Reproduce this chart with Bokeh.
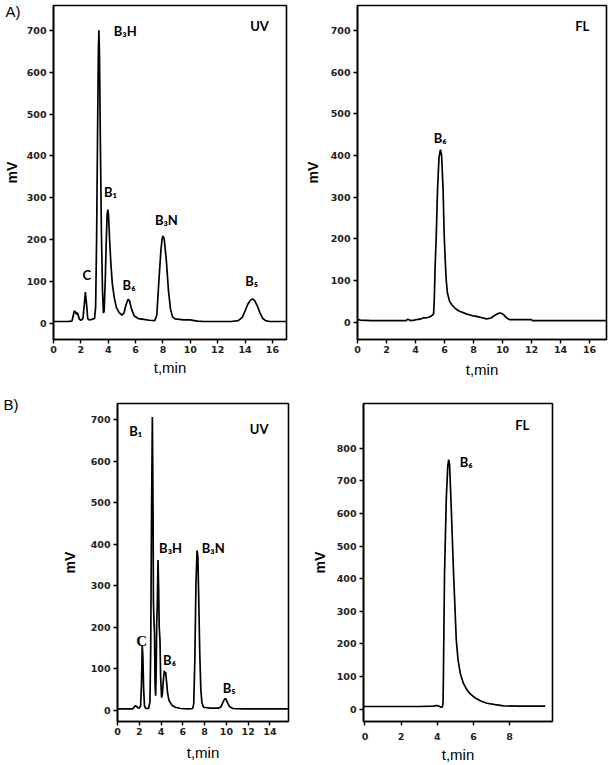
from bokeh.plotting import figure
from bokeh.layouts import column, row
from bokeh.models import FixedTicker, LinearAxis, Range1d, GlobalInlineStyleSheet
from bokeh.core.properties import value
from bokeh.embed import file_html
from bokeh.resources import INLINE

# ---------------- data ----------------
# Panel A, UV detector
a_uv_t = [0.0, 1.0, 1.35, 1.45, 1.52, 1.6, 1.68, 1.75, 1.82, 1.9, 2.0, 2.15, 2.25, 2.33, 2.42, 2.5,
          2.6, 2.8, 3.0, 3.08, 3.15, 3.22, 3.28, 3.32, 3.36, 3.42, 3.5, 3.58, 3.65, 3.7, 3.78, 3.85,
          3.92, 3.97, 4.02, 4.1, 4.2, 4.3, 4.45, 4.6, 4.8, 5.0, 5.15, 5.3, 5.45, 5.55, 5.7, 5.9,
          6.2, 6.6, 7.0, 7.4, 7.55, 7.7, 7.85, 7.95, 8.02, 8.1, 8.25, 8.4, 8.55, 8.7, 8.9, 9.5,
          10.0, 10.5, 11.0, 12.0, 13.0, 13.5, 13.8, 14.0, 14.2, 14.4, 14.55, 14.7, 14.9, 15.1,
          15.3, 15.5, 15.8, 17.0]
a_uv_mv = [5, 5, 6, 20, 30, 28, 22, 26, 18, 10, 8, 12, 45, 75, 45, 12,
           9, 10, 12, 40, 200, 450, 650, 700, 640, 450, 220, 80, 25, 30, 100, 190,
           260, 272, 260, 200, 140, 95, 60, 38, 26, 20, 25, 45, 58, 55, 35, 18,
           12, 10, 8, 7, 20, 100, 175, 205, 209, 200, 150, 80, 35, 16, 11, 9,
           9, 6, 5, 5, 5, 7, 15, 30, 46, 56, 59, 55, 42, 25,
           12, 7, 5, 5]

# Panel A, fluorescence detector
a_fl_t = [0.0, 0.2, 1.0, 2.0, 3.0, 3.35, 3.45, 3.55, 3.65, 3.9, 4.2, 4.4, 4.55, 4.7, 4.9, 5.1,
          5.25, 5.3, 5.35, 5.43, 5.52, 5.62, 5.72, 5.8, 5.9, 5.98, 6.05, 6.12, 6.2, 6.35, 6.5,
          6.74, 7.0, 7.5, 8.0, 8.45, 8.9, 9.2, 9.45, 9.7, 9.85, 10.05, 10.3, 10.5, 11.0, 12.0,
          12.05, 14.0, 17.2]
a_fl_mv = [7, 5, 4, 4, 4, 4, 7, 6, 4, 5, 7, 8, 11, 10, 12, 15,
           20, 60, 130, 207, 320, 395, 414, 400, 320, 207, 148, 100, 70, 50, 42,
           33, 27, 20, 15, 12, 8, 10, 16, 21, 22, 19, 10, 6, 6, 6,
           4, 4, 4]

# Panel B, UV detector
b_uv_t = [0.0, 1.4, 1.55, 1.65, 1.75, 1.85, 2.0, 2.12, 2.2, 2.27, 2.33, 2.4, 2.48, 2.6, 2.85,
          2.98, 3.05, 3.12, 3.2, 3.26, 3.3, 3.35, 3.4, 3.45, 3.5, 3.55, 3.6, 3.65, 3.72, 3.78,
          3.83, 3.9, 3.96, 4.05, 4.12, 4.22, 4.3, 4.36, 4.42, 4.5, 4.6, 4.75, 5.0, 5.3, 5.8,
          6.5, 6.9, 7.0, 7.1, 7.2, 7.3, 7.38, 7.45, 7.55, 7.65, 7.75, 7.9, 8.5, 9.3, 9.5, 9.7,
          9.85, 9.95, 10.1, 10.3, 10.6, 11.5, 15.7]
b_uv_mv = [3, 3, 8, 11, 9, 6, 5, 10, 60, 155, 130, 50, 10, 4, 4,
           20, 150, 450, 707, 500, 260, 215, 180, 60, 35, 90, 210, 250, 362, 290,
           200, 170, 80, 30, 40, 75, 95, 88, 92, 70, 40, 22, 12, 7, 4,
           3, 4, 15, 120, 300, 385, 370, 280, 140, 50, 18, 7, 5, 5, 8, 20,
           27, 27, 18, 8, 4, 3, 3]

# Panel B, fluorescence detector
b_fl_t = [-0.08, 0.0, 1.0, 2.0, 3.0, 3.8, 3.95, 4.05, 4.2, 4.28, 4.32, 4.34, 4.4, 4.5, 4.58,
          4.63, 4.68, 4.77, 4.9, 5.05, 5.15, 5.27, 5.45, 5.64, 5.85, 6.1, 6.4, 6.75, 7.2, 7.67,
          8.5, 9.97]
b_fl_mv = [8, 8, 8, 8, 8, 9, 11, 10, 6, 6, 20, 110, 416, 650, 745,
           765, 750, 620, 416, 212, 150, 110, 78, 59, 45, 34, 25, 18, 14, 10,
           9, 9]

# tick labels
a_xticks = [0, 2, 4, 6, 8, 10, 12, 14, 16]
a_yticks = [0, 100, 200, 300, 400, 500, 600, 700]
b_uv_xticks = [0, 2, 4, 6, 8, 10, 12, 14]
b_uv_yticks = [0, 100, 200, 300, 400, 500, 600, 700]
b_fl_xticks = [0, 2, 4, 6, 8]
b_fl_yticks = [0, 100, 200, 300, 400, 500, 600, 700, 800]

# peak annotations (text, t, mV)
a_uv_labels = ["B\u2083H", "UV", "B\u2081", "C", "B\u2086", "B\u2083N", "B\u2085"]
a_uv_lx = [5.24, 15.06, 4.16, 2.44, 5.52, 8.25, 14.49]
a_uv_ly = [697, 709, 314, 116, 92, 246, 101]

a_fl_labels = ["FL", "B\u2086"]
a_fl_lx = [15.5, 5.7]
a_fl_ly = [710, 443]

b_uv_labels = ["B\u2081", "UV", "B\u2083H", "B\u2083N", "B\u2086", "B\u2085"]
b_uv_lx = [1.67, 13.0, 4.87, 8.79, 4.78, 10.26]
b_uv_ly = [672, 679, 391, 391, 120, 54]
b_uv_c_label = ["C"]
b_uv_c_x = [2.22]
b_uv_c_y = [167]

b_fl_labels = ["FL", "B\u2086"]
b_fl_lx = [8.7, 5.6]
b_fl_ly = [871, 758]

# panel tags and the mV level they sit at
panel_tags = ["A)", "B)"]
panel_tag_mv = [745, 738]

TICK_FONT = "DejaVu Sans"
LAB_FONT = "Liberation Sans"
ANN_FONT = "Lato"


def make_fig(w, h, bl, br, bt, bb, xr, yr, xticks, yticks,
             ylab_standoff, xlab_standoff, xmaj_standoff=2):
    p = figure(width=w, height=h, x_range=Range1d(*xr), y_range=Range1d(*yr),
               output_backend="svg", toolbar_location=None,
               min_border_left=bl, min_border_right=br,
               min_border_top=bt, min_border_bottom=bb,
               background_fill_color="white", border_fill_color="white")
    p.grid.visible = False
    p.outline_line_color = "black"
    p.outline_line_width = 1.6
    p.outline_line_alpha = 1.0
    for ax in (p.xaxis[0], p.yaxis[0]):
        ax.axis_line_width = 1.6
        ax.major_tick_line_width = 1.4
        ax.major_tick_in = 0
        ax.major_tick_out = 4
        ax.minor_tick_line_color = None
        ax.major_label_text_font = TICK_FONT
        ax.major_label_text_font_size = "9.5px"
        ax.major_label_text_font_style = "bold"
        ax.major_label_text_color = "#222222"
        ax.axis_label_text_font = LAB_FONT
        ax.axis_label_text_color = "black"
    p.xaxis.ticker = FixedTicker(ticks=xticks)
    p.yaxis.ticker = FixedTicker(ticks=yticks)
    p.xaxis.axis_label = "t,min"
    p.xaxis.axis_label_text_font_size = "15px"
    p.xaxis.axis_label_text_font_style = "normal"
    p.xaxis.axis_label_standoff = xlab_standoff
    p.xaxis.major_label_standoff = xmaj_standoff
    p.yaxis.axis_label = "mV"
    p.yaxis.axis_label_text_font_size = "14px"
    p.yaxis.axis_label_text_font_style = "bold"
    p.yaxis.axis_label_standoff = ylab_standoff
    p.yaxis.major_label_standoff = 3
    return p


def annotate(p, texts, xs, ys, font=ANN_FONT, size="13px"):
    p.text(x=xs, y=ys, text=texts, text_font=value(font), text_font_size=size,
           text_font_style="bold", text_align="center", text_baseline="middle",
           text_color="black")


def tag(p, text, level, standoff):
    # panel letter drawn as the single label of an extra, line-less left axis
    ax = LinearAxis(ticker=FixedTicker(ticks=[level]),
                    major_label_overrides={level: text},
                    axis_line_color=None, major_tick_line_color=None,
                    minor_tick_line_color=None, major_tick_in=0, major_tick_out=0,
                    major_label_standoff=standoff,
                    major_label_text_font=LAB_FONT, major_label_text_font_size="15px",
                    major_label_text_font_style="normal", major_label_text_color="black")
    p.add_layout(ax, "left")


# ---------- Panel A UV ----------
p1 = make_fig(300, 380, 49, 14, 4, 39, (0, 17.03), (-38, 759), a_xticks, a_yticks,
              ylab_standoff=4, xlab_standoff=3)
p1.line(a_uv_t, a_uv_mv, line_color="black", line_width=1.7)
annotate(p1, a_uv_labels, a_uv_lx, a_uv_ly)
tag(p1, panel_tags[0], panel_tag_mv[0], -20)

# ---------- Panel A FL ----------
p2 = make_fig(309, 380, 57, 3, 5, 41, (0, 17.17), (-41.5, 760), a_xticks, a_yticks,
              ylab_standoff=7, xlab_standoff=5)
p2.line(a_fl_t, a_fl_mv, line_color="black", line_width=1.7)
annotate(p2, a_fl_labels, a_fl_lx, a_fl_ly)

# ---------- Panel B UV ----------
p3 = make_fig(300, 385, 116, 12, 19, 41, (0, 15.7), (-27.4, 739.3), b_uv_xticks, b_uv_yticks,
              ylab_standoff=10, xlab_standoff=6)
p3.line(b_uv_t, b_uv_mv, line_color="black", line_width=1.7)
annotate(p3, b_uv_labels, b_uv_lx, b_uv_ly)
annotate(p3, b_uv_c_label, b_uv_c_x, b_uv_c_y, font="Liberation Serif", size="15px")
tag(p3, panel_tags[1], panel_tag_mv[1], 40)

# ---------- Panel B FL ----------
p4 = make_fig(309, 385, 63, 57, 23, 43, (-0.08, 10.37), (-38, 937), b_fl_xticks, b_fl_yticks,
              ylab_standoff=6, xlab_standoff=3, xmaj_standoff=7)
p4.line(b_fl_t, b_fl_mv, line_color="black", line_width=1.7)
annotate(p4, b_fl_labels, b_fl_lx, b_fl_ly)

layout = column(row(p1, p2), row(p3, p4),
                stylesheets=[GlobalInlineStyleSheet(css="body { margin: 0; }")])

open("out.html", "w").write(file_html(layout, INLINE))
